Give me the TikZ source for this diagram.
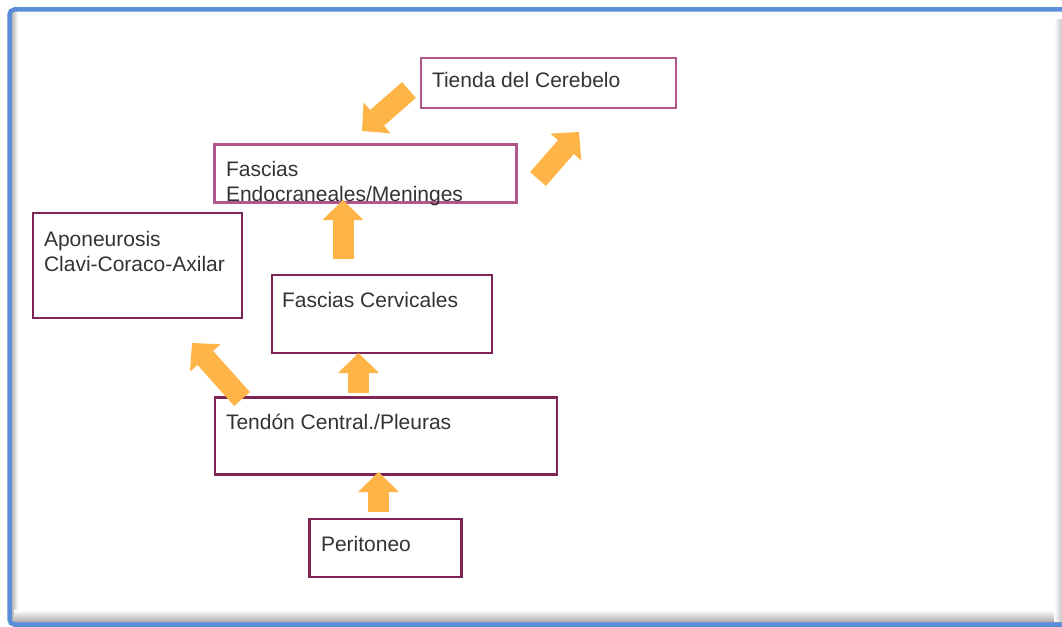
\documentclass[tikz,border=0pt]{standalone}
\usepackage{fontspec}
\setmainfont{Liberation Sans}
\usetikzlibrary{arrows.meta,calc}
\definecolor{frameblue}{HTML}{5B8ED8}
\definecolor{boxdark}{HTML}{7B2455}
\definecolor{boxpink}{HTML}{B0578C}
\definecolor{arroworange}{HTML}{FFB447}
\definecolor{txt}{HTML}{333333}
\begin{document}
\begin{tikzpicture}[x=1pt,y=-1pt,
  darkbox/.style={draw=boxdark, line width=2.9pt, inner sep=0pt, outer sep=0pt},
  pinkbox/.style={draw=boxpink, line width=2.9pt, inner sep=0pt, outer sep=0pt},
  lbl/.style={anchor=base west, inner sep=0pt, outer sep=0pt, align=left, text=txt,
    font=\fontsize{21}{25}\selectfont},
  blockarrow/.style={draw=arroworange, line width=21pt,
    -{Triangle[length=20pt, width=41pt, line width=0pt]}}]
\useasboundingbox (0,0) rectangle (1062,626);
\fill[white] (0,0) rectangle (1062,626);
% frame
\begin{scope}
\clip (0,0) rectangle (1062,626);
\shade[left color=gray!55, right color=white] (12,12) rectangle (18,621);
\shade[top color=white, bottom color=gray!65] (14,610) rectangle (1062,622);
\shade[left color=white, right color=gray!45] (1054,20) rectangle (1062,621);
\draw[frameblue, line width=4.5pt, rounded corners=5pt] (9.5,9.5) rectangle (1080,624.5);
\end{scope}
% boxes
\node[pinkbox, minimum width=255pt, minimum height=50pt] (tienda) at (548.5,83) {};
\node[pinkbox, minimum width=302pt, minimum height=58pt] (endo) at (365.5,173.5) {};
\node[darkbox, minimum width=209pt, minimum height=105pt] (apo) at (137.5,265.5) {};
\node[darkbox, minimum width=220pt, minimum height=78pt] (cerv) at (382,314) {};
\node[darkbox, minimum width=342pt, minimum height=77pt] (tend) at (386,436) {};
\node[darkbox, minimum width=152pt, minimum height=58pt] (peri) at (385.5,548) {};
% labels
\node[lbl] (tiendaT) at (432,88) {Tienda del Cerebelo};
\node[lbl] (endoT) at (226,201) {Fascias\\Endocraneales/Meninges};
\node[lbl] (apoT) at (44,271) {Aponeurosis\\Clavi-Coraco-Axilar};
\node[lbl] (cervT) at (282,307) {Fascias Cervicales};
\node[lbl] (tendT) at (226,429) {Tendón Central./Pleuras};
\node[lbl] (periT) at (321,551) {Peritoneo};
% arrow end points
\coordinate (a1s) at (378.5,512); \coordinate (a1e) at (378.5,472);
\coordinate (a2s) at (358.5,393); \coordinate (a2e) at (358.5,353);
\coordinate (a3s) at (242,399);   \coordinate (a3e) at (192,343);
\coordinate (a4s) at (343,259);   \coordinate (a4e) at (343,200);
\coordinate (a5s) at (538,179);   \coordinate (a5e) at (579,132);
\coordinate (a6s) at (409,90);    \coordinate (a6e) at (362,131);
\draw[blockarrow] (a1s) -- (a1e);
\draw[blockarrow] (a2s) -- (a2e);
\draw[blockarrow] (a3s) -- (a3e);
\draw[blockarrow] (a4s) -- (a4e);
\draw[blockarrow] (a5s) -- (a5e);
\draw[blockarrow] (a6s) -- (a6e);
\end{tikzpicture}
\end{document}
